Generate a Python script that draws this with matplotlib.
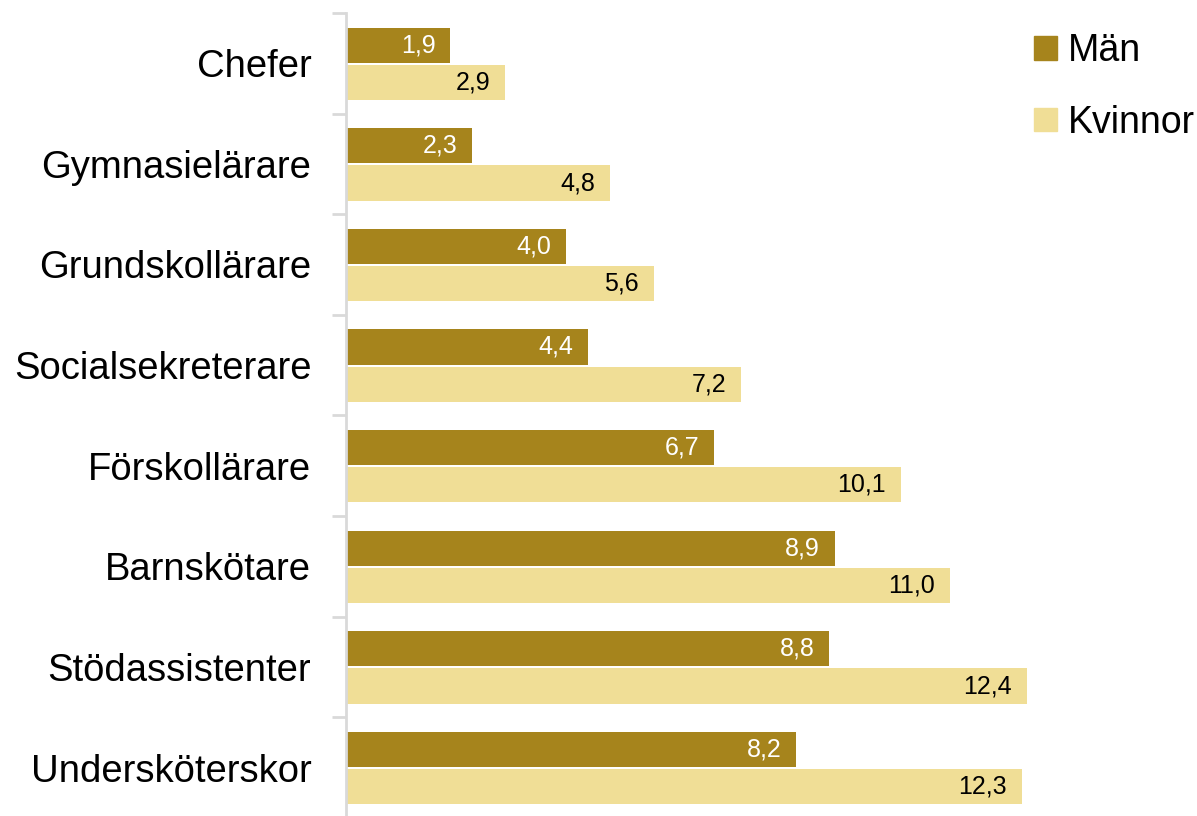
import matplotlib.pyplot as plt
from matplotlib.patches import Patch
import numpy as np

categories = ['Chefer', 'Gymnasielärare', 'Grundskollärare', 'Socialsekreterare',
              'Förskollärare', 'Barnskötare', 'Stödassistenter', 'Undersköterskor']
man = [1.9, 2.3, 4.0, 4.4, 6.7, 8.9, 8.8, 8.2]
kvinnor = [2.9, 4.8, 5.6, 7.2, 10.1, 11.0, 12.4, 12.3]

c_man = '#A6841C'
c_kv = '#F0DE96'
plt.rcParams['font.family'] = ['Liberation Sans', 'DejaVu Sans']

W, H = 1197, 816
fig = plt.figure(figsize=(W / 100, H / 100), dpi=100)
ax = fig.add_axes([346 / W, 0, (1027 - 346) / W, (816 - 13) / H])

y = np.arange(len(categories))
h = 0.35
b1 = ax.barh(y - 0.18, man, height=h, color=c_man)
b2 = ax.barh(y + 0.19, kvinnor, height=h, color=c_kv)

# value labels inside bar ends
for bar, v in zip(b1, man):
    ax.text(bar.get_width() - 0.27, bar.get_y() + bar.get_height() / 2,
            f'{v:.1f}'.replace('.', ','), ha='right', va='center',
            color='white', fontsize=18)
for bar, v in zip(b2, kvinnor):
    ax.text(bar.get_width() - 0.27, bar.get_y() + bar.get_height() / 2,
            f'{v:.1f}'.replace('.', ','), ha='right', va='center',
            color='black', fontsize=18)

ax.set_xlim(0, 12.4)
ax.set_ylim(-0.5 + 803 / 100.6, -0.5)
ax.set_yticks(y)
ax.set_yticklabels(categories, fontsize=27.5)
ax.set_yticks(np.arange(-0.5, 7.5, 1), minor=True)
ax.tick_params(axis='y', which='major', length=0, pad=25)
ax.tick_params(axis='y', which='minor', length=10, width=2, color='#D9D9D9')
ax.set_xticks([])
for s in ['top', 'right', 'bottom']:
    ax.spines[s].set_visible(False)
ax.spines['left'].set_color('#D9D9D9')
ax.spines['left'].set_linewidth(2)

handles = [Patch(color=c_man, label='Män'), Patch(color=c_kv, label='Kvinnor')]
fig.legend(handles=handles, loc='upper left', bbox_to_anchor=(1034 / W, 1 - 33 / H),
           frameon=False, fontsize=27, handlelength=0.6, handleheight=0.6,
           handletextpad=0.3, labelspacing=0.95, borderpad=0, borderaxespad=0)

fig.savefig('out.png', dpi=100)
